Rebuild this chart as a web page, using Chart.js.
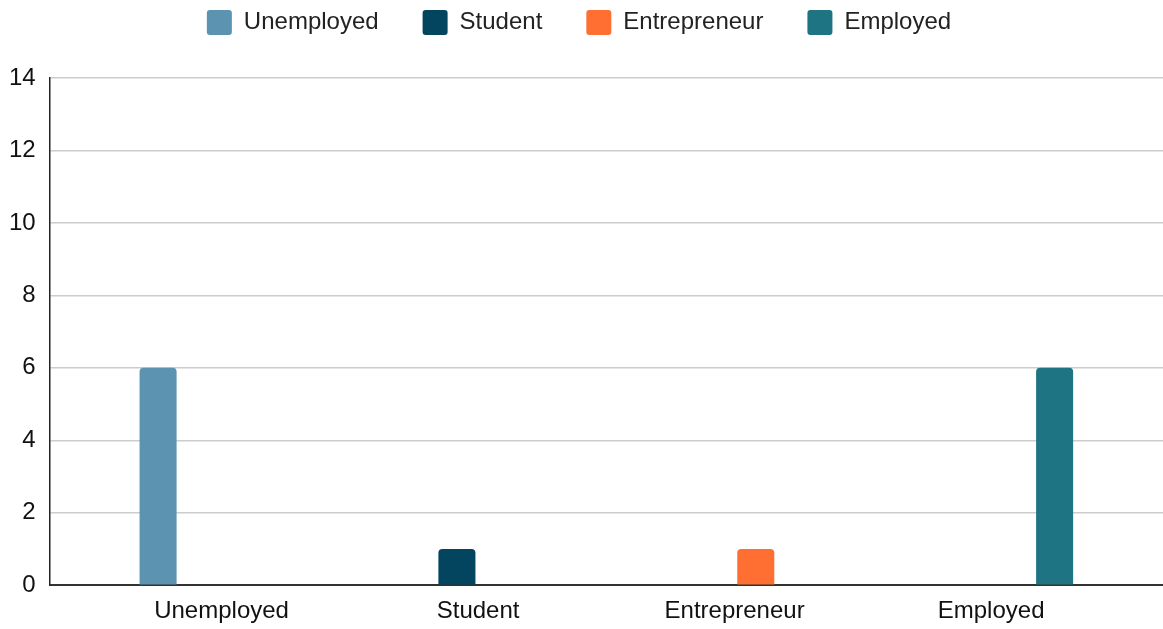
<!DOCTYPE html>
<html>
<head>
<meta charset="utf-8">
<script src="https://cdn.jsdelivr.net/npm/chart.js@4"></script>
<style>
  html, body { margin: 0; padding: 0; background: #fff; }
  #wrap { width: 1163px; height: 629px; }
</style>
</head>
<body>
<div id="wrap"><canvas id="myChart"></canvas></div>
<script>
const categories = ["Unemployed", "Student", "Entrepreneur", "Employed"];
const counts = [6, 1, 1, 6];
const colors = ["#5b93b0", "#03445e", "#ff6f31", "#1e7482"];
const yTicks = [0, 2, 4, 6, 8, 10, 12, 14];

const fontFamily = "'Liberation Sans', Arial, sans-serif";
const legendPad = 44;

// legend is pulled up by the negative top padding; stretch its box so the plot starts lower
const legendSpacer = {
  id: "legendSpacer",
  beforeInit(chart) {
    const fit = chart.legend.fit;
    chart.legend.fit = function () {
      fit.call(this);
      this.height = 68 + legendPad;
    };
  }
};

new Chart(document.getElementById("myChart"), {
  type: "bar",
  data: {
    datasets: categories.map((name, i) => ({
      label: name,
      data: [{ x: i, y: counts[i] }],
      backgroundColor: colors[i],
      borderRadius: 4,
      categoryPercentage: 0.66,
      barPercentage: 0.875,
    }))
  },
  plugins: [legendSpacer],
  options: {
    responsive: true,
    maintainAspectRatio: false,
    animation: false,
    layout: { padding: { left: -5, right: 0, top: 10 - legendPad, bottom: -9 } },
    plugins: {
      legend: {
        position: "top",
        labels: {
          color: "#222",
          font: { family: fontFamily, size: 24 },
          boxWidth: 25,
          boxHeight: 25,
          padding: legendPad,
          useBorderRadius: true,
          borderRadius: 3,
        }
      },
      tooltip: { enabled: false }
    },
    scales: {
      x: {
        type: "linear",
        offset: false,
        min: -0.67,
        max: 3.67,
        afterBuildTicks: scale => {
          scale.ticks = categories.map((_, i) => ({ value: i }));
        },
        grid: { display: false, drawTicks: false },
        border: { display: true, color: "#333", width: 2 },
        ticks: {
          autoSkip: false,
          maxRotation: 0,
          padding: 12,
          color: "#111",
          font: { family: fontFamily, size: 24 },
          callback: v => categories[v],
        }
      },
      y: {
        min: 0,
        max: 14,
        afterBuildTicks: scale => {
          scale.ticks = yTicks.map(v => ({ value: v }));
        },
        grid: { color: "#cccccc", lineWidth: 1.5, drawTicks: false },
        border: { display: true, color: "#222", width: 1.5 },
        ticks: {
          padding: 14,
          color: "#111",
          font: { family: fontFamily, size: 24 },
        }
      }
    }
  }
});
</script>
</body>
</html>
